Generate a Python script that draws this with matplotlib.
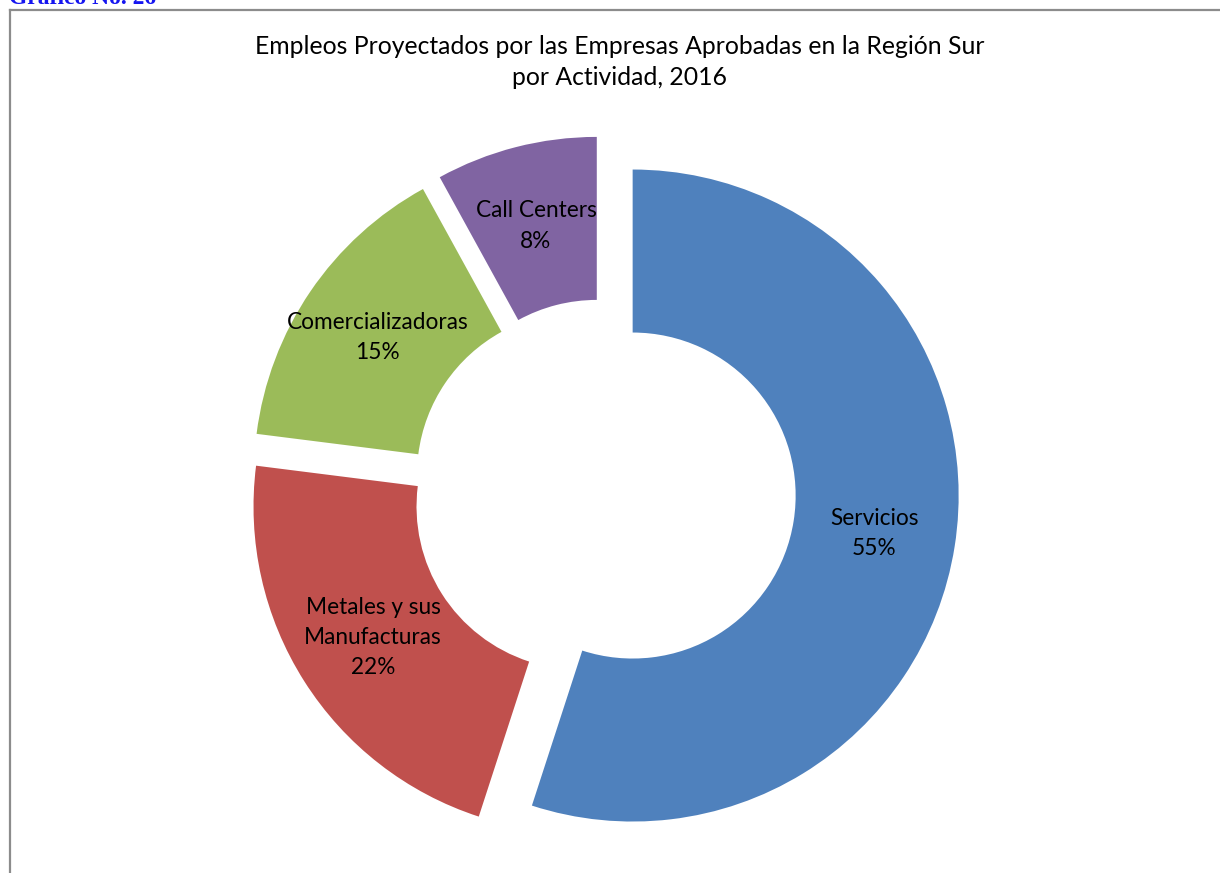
import matplotlib

matplotlib.use("Agg")
import matplotlib.pyplot as plt
from matplotlib.lines import Line2D

categories = ["Servicios", "Metales y sus\nManufacturas", "Comercializadoras", "Call Centers"]
shares = [55, 22, 15, 8]
colors = ["#4F81BD", "#C0504D", "#9BBB59", "#8064A2"]
title = "Empleos Proyectados por las Empresas Aprobadas en la Región Sur\npor Actividad, 2016"
caption = "Gráfico No. 26"

W, H = 1220, 873
fig = plt.figure(figsize=(W / 100, H / 100), dpi=100)

# ring geometry in pixels: radius 326, centre at (604, 491) from top-left
radius_px = 326
cx, cy = 604, H - 491
ax = fig.add_axes([0, 0, 1, 1])
wedges, texts = ax.pie(
    shares,
    labels=[f"{c}\n{s}%" for c, s in zip(categories, shares)],
    colors=colors,
    startangle=90,
    counterclock=False,
    radius=1,
    explode=[29 / radius_px] * len(shares),
    labeldistance=0.75,
    wedgeprops=dict(width=0.5, linewidth=0),
    textprops=dict(family="Lato", fontsize=16.3, color="black", linespacing=1.55),
)
for t in texts:
    t.set_ha("center")
    t.set_va("center")
ax.set_xlim(-cx / radius_px, (W - cx) / radius_px)
ax.set_ylim(-cy / radius_px, (H - cy) / radius_px)
ax.set_aspect("auto")
ax.axis("off")

fig.text(620 / W, 1 - 62 / H, title, ha="center", va="center", family="Lato",
         fontsize=17.8, linespacing=1.4)
fig.text(9 / W, 1 - 4 / H, caption, ha="left", va="baseline", family="Liberation Serif",
         fontweight="bold", fontsize=17, color="#1515F0")

# chart frame, only the top and left edges fall inside the image
fig.add_artist(Line2D([9.5 / W, 1.01], [1 - 10 / H, 1 - 10 / H], color="#8C8C8C", lw=1.6))
fig.add_artist(Line2D([9.5 / W, 9.5 / W], [1 - 10 / H, -0.01], color="#8C8C8C", lw=1.6))

fig.savefig("out.png", dpi=100)
